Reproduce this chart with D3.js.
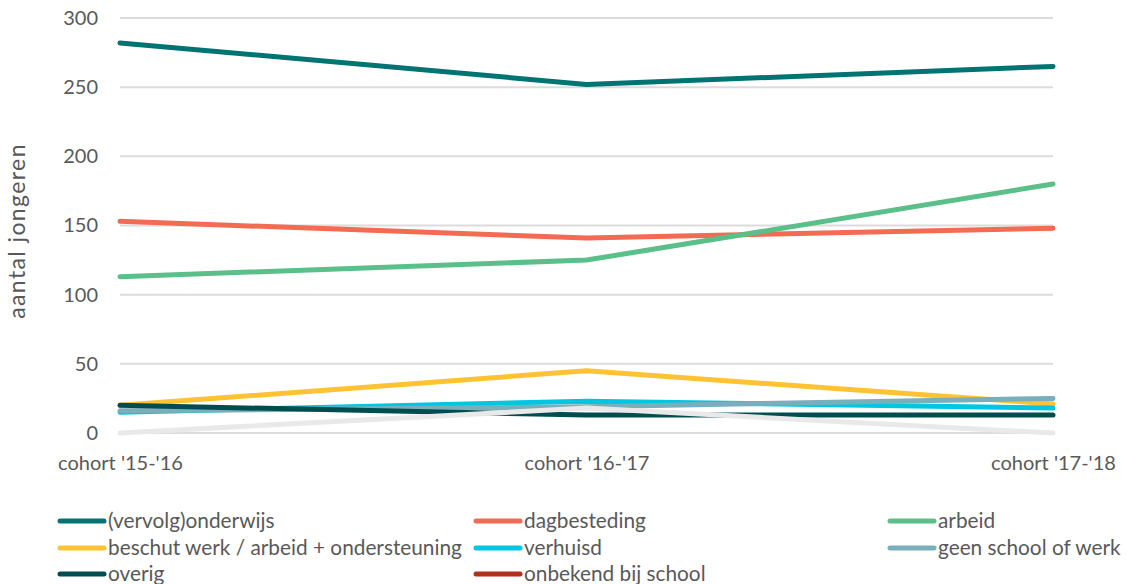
<!DOCTYPE html>
<html>
<head>
<meta charset="utf-8">
<script src="https://cdn.jsdelivr.net/npm/d3@7"></script>
<style>
  body { margin: 0; background: #fff; }
  text { font-family: Lato, "Open Sans", sans-serif; fill: #595959; }
</style>
</head>
<body>
<svg id="chart" width="1126" height="584"></svg>
<script>
const cohorts = ["cohort '15-'16", "cohort '16-'17", "cohort '17-'18"];
const yTicks = [0, 50, 100, 150, 200, 250, 300];

const seriesNames = ["(vervolg)onderwijs", "dagbesteding", "arbeid",
    "beschut werk / arbeid + ondersteuning", "verhuisd", "geen school of werk",
    "overig", "onbekend bij school", ""];
const seriesColors = ["#007373", "#f26b52", "#5bbf89", "#ffc233", "#00c6e4",
    "#78afbb", "#004d50", "#b0301a", "#e9e9e9"];
const onderwijs = [282, 252, 265];
const dagbesteding = [153, 141, 148];
const arbeid = [113, 125, 180];
const beschut = [20, 45, 21];
const verhuisd = [15, 23, 18];
const geenSchool = [16, 19, 25];
const overig = [20, 13, 13];
const onbekend = [null, null, null];
const overigGrijs = [0, 18, 0];
const seriesValues = [onderwijs, dagbesteding, arbeid, beschut, verhuisd,
    geenSchool, overig, onbekend, overigGrijs];

const svg = d3.select("#chart");
const plotLeft = 120, plotRight = 1053, plotTop = 18, plotBottom = 433;
const font = "Lato, 'Open Sans', sans-serif";

const x = d3.scalePoint().domain(cohorts).range([plotLeft, plotRight]);
const y = d3.scaleLinear().domain([0, 300]).range([plotBottom, plotTop]);

// gridlines
svg.append("g")
    .selectAll("line").data(yTicks).join("line")
    .attr("x1", plotLeft).attr("x2", plotRight)
    .attr("y1", d => y(d)).attr("y2", d => y(d))
    .attr("stroke", "#dcdcdc").attr("stroke-width", 2);

// y axis
const yAxis = svg.append("g")
    .attr("transform", `translate(${plotLeft},0)`)
    .call(d3.axisLeft(y).tickValues(yTicks).tickSize(0).tickPadding(22));
yAxis.select(".domain").remove();
yAxis.selectAll("text").attr("font-size", 20).style("fill", "#595959")
    .style("font-family", font);

// x axis
const xAxis = svg.append("g")
    .attr("transform", `translate(0,${plotBottom})`)
    .call(d3.axisBottom(x).tickSize(0).tickPadding(23));
xAxis.select(".domain").remove();
xAxis.selectAll("text").attr("font-size", 20).style("fill", "#595959")
    .style("font-family", font);

svg.append("text")
    .attr("transform", `translate(25,231) rotate(-90)`)
    .attr("text-anchor", "middle")
    .attr("font-size", 23)
    .attr("letter-spacing", 1.4)
    .text("aantal jongeren");

// lines
const line = d3.line()
    .defined(d => d != null)
    .x((d, i) => x(cohorts[i]))
    .y(d => y(d));

svg.append("g")
    .selectAll("path").data(seriesValues).join("path")
    .attr("d", d => line(d))
    .attr("fill", "none")
    .attr("stroke", (d, i) => seriesColors[i])
    .attr("stroke-width", 5)
    .attr("stroke-linecap", "round")
    .attr("stroke-linejoin", "round");

// legend
const legendItems = seriesNames.map((n, i) => ({name: n, color: seriesColors[i]}))
    .filter(d => d.name !== "");
const colX = [58, 474, 888];
const rowY = [521, 548, 574];

const leg = svg.append("g")
    .selectAll("g").data(legendItems).join("g")
    .attr("transform", (d, i) => `translate(${colX[i % 3]},${rowY[Math.floor(i / 3)]})`);
leg.append("line")
    .attr("x1", 2).attr("x2", 46)
    .attr("stroke", d => d.color)
    .attr("stroke-width", 5)
    .attr("stroke-linecap", "round");
leg.append("text")
    .attr("x", 50).attr("dy", "0.35em")
    .attr("font-size", 20.8)
    .text(d => d.name);
</script>
</body>
</html>
